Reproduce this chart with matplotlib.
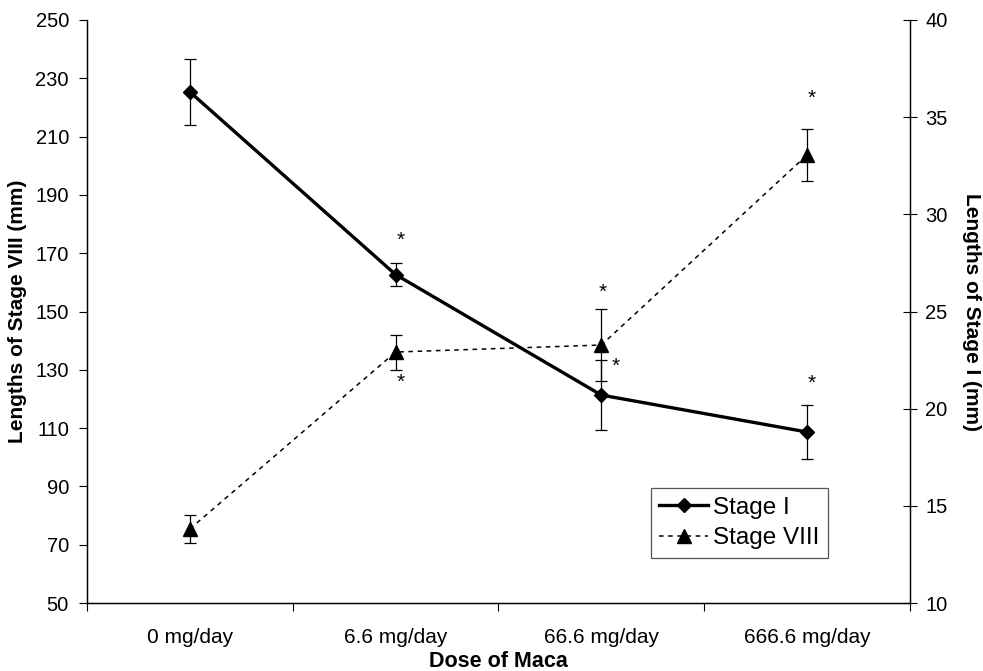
import numpy as np
import matplotlib.pyplot as plt
from matplotlib.lines import Line2D

plt.rcParams['font.family'] = ['Liberation Sans', 'DejaVu Sans']

# data
doses = ["0 mg/day", "6.6 mg/day", "66.6 mg/day", "666.6 mg/day"]
stage1 = [36.3, 26.9, 20.7, 18.8]        # right axis (mm)
stage1_err = [1.7, 0.6, 1.8, 1.4]
stage8 = [75.4, 136.1, 138.5, 203.7]     # left axis (mm)
stage8_err = [4.7, 6.0, 12.3, 9.0]

x = np.arange(len(doses)) + 0.5

fig = plt.figure(figsize=(9.83, 6.71), dpi=100)
ax = fig.add_axes([0.0885, 0.1013, 0.8372, 0.8689])
ax2 = ax.twinx()

s8 = dict(color='black', lw=1.1, ls=(0, (3, 3)), marker='^', ms=9.5)
s1 = dict(color='black', lw=2.4, ls='-', marker='D', ms=7)

# Stage VIII on left axis
ax.errorbar(x, stage8, yerr=stage8_err, ecolor='black', elinewidth=0.9,
            capsize=4, capthick=0.9, **s8)
# Stage I on right axis
ax2.errorbar(x, stage1, yerr=stage1_err, ecolor='black', elinewidth=0.9,
             capsize=4, capthick=0.9, **s1)

ax.set_xlim(0, 4)
ax.set_ylim(50, 250)
ax.set_yticks(np.arange(50, 251, 20))
ax2.set_ylim(10, 40)
ax2.set_yticks(np.arange(10, 41, 5))

ax.set_xticks(np.arange(0, 5))
ax.set_xticklabels([])
ax.set_xticks(x, minor=True)
ax.set_xticklabels(doses, minor=True, fontsize=15)
ax.tick_params(axis='x', which='minor', length=0, pad=18)
ax.tick_params(axis='x', which='major', direction='out', length=6)
ax.tick_params(axis='y', direction='out', length=6, labelsize=14.5, pad=7)
ax2.tick_params(axis='y', direction='inout', length=10, labelsize=14.5, pad=6)

for a in (ax, ax2):
    a.spines['top'].set_visible(False)
    for s in a.spines.values():
        s.set_linewidth(0.9)

ax.set_xlabel("Dose of Maca", fontsize=15.5, fontweight='bold', labelpad=3)
ax.set_ylabel("Lengths of Stage VIII (mm)", fontsize=15, fontweight='bold', labelpad=6)
ax2.set_ylabel("Lengths of Stage I (mm)", fontsize=15, fontweight='bold',
               rotation=270, labelpad=24)

# significance asterisks
star_kw = dict(textcoords='offset points', ha='center', va='center', fontsize=15)
ax2.annotate('*', (x[1], stage1[1]), xytext=(4, 25), **star_kw)
ax.annotate('*', (x[1], stage8[1]), xytext=(4, -22), **star_kw)
ax.annotate('*', (x[2], stage8[2]), xytext=(1, 38), **star_kw)
ax2.annotate('*', (x[2], stage1[2]), xytext=(10, 21), **star_kw)
ax2.annotate('*', (x[3], stage1[3]), xytext=(3, 35), **star_kw)
ax.annotate('*', (x[3], stage8[3]), xytext=(3, 41), **star_kw)

handles = [Line2D([], [], **s1), Line2D([], [], **s8)]
leg = ax2.legend(handles, ['Stage I', 'Stage VIII'], loc='upper left',
                 bbox_to_anchor=(0.685, 0.197), fontsize=17.5, fancybox=False,
                 framealpha=1, edgecolor='#555555', handlelength=2.0,
                 handletextpad=0.2, borderpad=0.35, labelspacing=0.35,
                 borderaxespad=0)
leg.get_frame().set_linewidth(0.9)

fig.savefig("out.png", dpi=100)
